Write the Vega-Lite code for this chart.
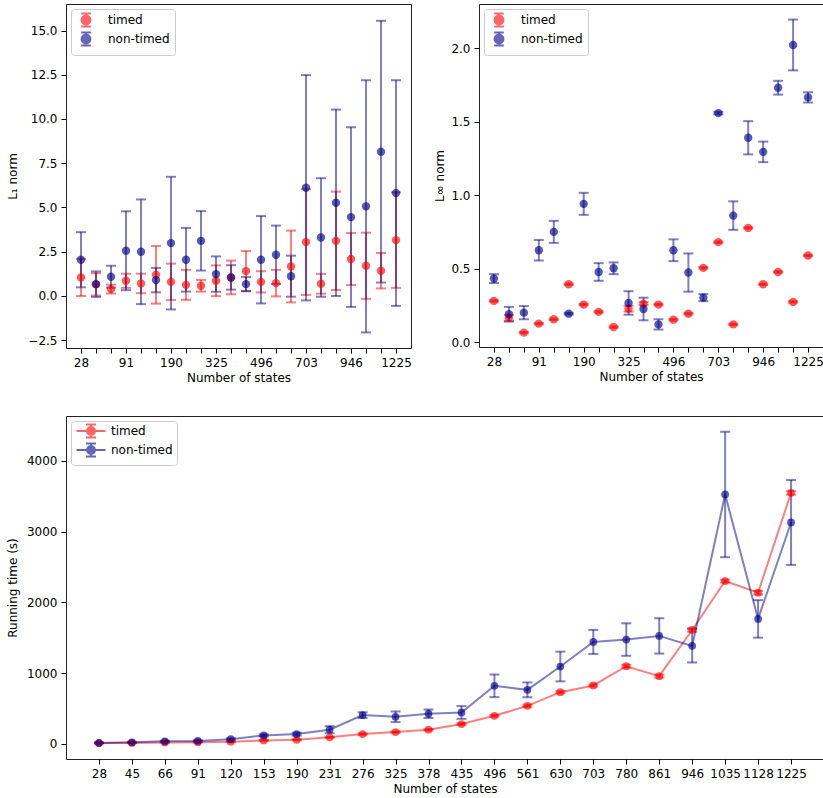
{
  "$schema": "https://vega.github.io/schema/vega-lite/v6.json",
  "padding": {"left": 5, "top": 3, "right": 0, "bottom": 2},
  "config": {
    "font": "DejaVu Sans",
    "view": {"stroke": "#222222", "strokeWidth": 1},
    "axis": {"grid": false, "domain": false, "tickColor": "black", "tickSize": 5, "labelColor": "black", "labelFontSize": 12, "titleFontSize": 12, "titleFontWeight": "normal", "titleColor": "black", "labelPadding": 4, "labelOverlap": false, "labelFlush": false, "labelBound": false}
  },
  "datasets": {
    "d": [
      {"states": 28, "method": "timed", "l1": 1.04, "l1_err": 1.05, "linf": 0.28, "linf_err": 0.005, "time": 10, "time_err": 5},
      {"states": 45, "method": "timed", "l1": 0.65, "l1_err": 0.63, "linf": 0.165, "linf_err": 0.02, "time": 12, "time_err": 5},
      {"states": 66, "method": "timed", "l1": 0.38, "l1_err": 0.25, "linf": 0.064, "linf_err": 0.005, "time": 18, "time_err": 5},
      {"states": 91, "method": "timed", "l1": 0.85, "l1_err": 0.40, "linf": 0.125, "linf_err": 0.005, "time": 22, "time_err": 5},
      {"states": 120, "method": "timed", "l1": 0.70, "l1_err": 0.55, "linf": 0.155, "linf_err": 0.005, "time": 28, "time_err": 6},
      {"states": 153, "method": "timed", "l1": 1.19, "l1_err": 1.63, "linf": 0.393, "linf_err": 0.005, "time": 47, "time_err": 6},
      {"states": 190, "method": "timed", "l1": 0.79, "l1_err": 1.03, "linf": 0.255, "linf_err": 0.005, "time": 56, "time_err": 6},
      {"states": 231, "method": "timed", "l1": 0.62, "l1_err": 0.85, "linf": 0.205, "linf_err": 0.005, "time": 90, "time_err": 8},
      {"states": 276, "method": "timed", "l1": 0.57, "l1_err": 0.33, "linf": 0.102, "linf_err": 0.005, "time": 136, "time_err": 10},
      {"states": 325, "method": "timed", "l1": 0.85, "l1_err": 0.87, "linf": 0.227, "linf_err": 0.02, "time": 165, "time_err": 10},
      {"states": 378, "method": "timed", "l1": 1.04, "l1_err": 0.95, "linf": 0.261, "linf_err": 0.01, "time": 198, "time_err": 10},
      {"states": 435, "method": "timed", "l1": 1.40, "l1_err": 1.13, "linf": 0.255, "linf_err": 0.005, "time": 278, "time_err": 12},
      {"states": 496, "method": "timed", "l1": 0.79, "l1_err": 0.60, "linf": 0.152, "linf_err": 0.005, "time": 395, "time_err": 12},
      {"states": 561, "method": "timed", "l1": 0.72, "l1_err": 0.75, "linf": 0.193, "linf_err": 0.005, "time": 536, "time_err": 15},
      {"states": 630, "method": "timed", "l1": 1.66, "l1_err": 2.03, "linf": 0.505, "linf_err": 0.005, "time": 729, "time_err": 15},
      {"states": 703, "method": "timed", "l1": 3.04, "l1_err": 2.99, "linf": 0.68, "linf_err": 0.005, "time": 824, "time_err": 15},
      {"states": 780, "method": "timed", "l1": 0.68, "l1_err": 0.56, "linf": 0.12, "linf_err": 0.005, "time": 1096, "time_err": 20},
      {"states": 861, "method": "timed", "l1": 3.11, "l1_err": 2.78, "linf": 0.777, "linf_err": 0.005, "time": 955, "time_err": 20},
      {"states": 946, "method": "timed", "l1": 2.08, "l1_err": 1.47, "linf": 0.393, "linf_err": 0.005, "time": 1609, "time_err": 25},
      {"states": 1035, "method": "timed", "l1": 1.70, "l1_err": 1.87, "linf": 0.477, "linf_err": 0.005, "time": 2301, "time_err": 20},
      {"states": 1128, "method": "timed", "l1": 1.42, "l1_err": 1.00, "linf": 0.273, "linf_err": 0.005, "time": 2136, "time_err": 25},
      {"states": 1225, "method": "timed", "l1": 3.15, "l1_err": 2.70, "linf": 0.589, "linf_err": 0.005, "time": 3548, "time_err": 25},
      {"states": 28, "method": "non-timed", "l1": 2.04, "l1_err": 1.56, "linf": 0.432, "linf_err": 0.03, "time": 12, "time_err": 8},
      {"states": 45, "method": "non-timed", "l1": 0.66, "l1_err": 0.72, "linf": 0.189, "linf_err": 0.05, "time": 20, "time_err": 8},
      {"states": 66, "method": "non-timed", "l1": 1.08, "l1_err": 0.62, "linf": 0.2, "linf_err": 0.045, "time": 35, "time_err": 8},
      {"states": 91, "method": "non-timed", "l1": 2.55, "l1_err": 2.23, "linf": 0.625, "linf_err": 0.07, "time": 40, "time_err": 10},
      {"states": 120, "method": "non-timed", "l1": 2.49, "l1_err": 2.96, "linf": 0.75, "linf_err": 0.075, "time": 65, "time_err": 12},
      {"states": 153, "method": "non-timed", "l1": 0.89, "l1_err": 0.69, "linf": 0.193, "linf_err": 0.006, "time": 118, "time_err": 15},
      {"states": 190, "method": "non-timed", "l1": 2.98, "l1_err": 3.75, "linf": 0.941, "linf_err": 0.075, "time": 136, "time_err": 20},
      {"states": 231, "method": "non-timed", "l1": 2.04, "l1_err": 1.80, "linf": 0.477, "linf_err": 0.06, "time": 198, "time_err": 50},
      {"states": 276, "method": "non-timed", "l1": 3.11, "l1_err": 1.68, "linf": 0.502, "linf_err": 0.04, "time": 405, "time_err": 40},
      {"states": 325, "method": "non-timed", "l1": 1.23, "l1_err": 1.00, "linf": 0.266, "linf_err": 0.08, "time": 381, "time_err": 75},
      {"states": 378, "method": "non-timed", "l1": 1.04, "l1_err": 0.69, "linf": 0.225, "linf_err": 0.077, "time": 424, "time_err": 60},
      {"states": 435, "method": "non-timed", "l1": 0.66, "l1_err": 0.40, "linf": 0.12, "linf_err": 0.035, "time": 442, "time_err": 90},
      {"states": 496, "method": "non-timed", "l1": 2.04, "l1_err": 2.47, "linf": 0.625, "linf_err": 0.074, "time": 819, "time_err": 160},
      {"states": 561, "method": "non-timed", "l1": 2.32, "l1_err": 1.65, "linf": 0.473, "linf_err": 0.13, "time": 762, "time_err": 105},
      {"states": 630, "method": "non-timed", "l1": 1.11, "l1_err": 1.16, "linf": 0.302, "linf_err": 0.024, "time": 1092, "time_err": 210},
      {"states": 703, "method": "non-timed", "l1": 6.11, "l1_err": 6.37, "linf": 1.559, "linf_err": 0.008, "time": 1440, "time_err": 170},
      {"states": 780, "method": "non-timed", "l1": 3.30, "l1_err": 3.35, "linf": 0.861, "linf_err": 0.097, "time": 1473, "time_err": 230},
      {"states": 861, "method": "non-timed", "l1": 5.26, "l1_err": 5.27, "linf": 1.391, "linf_err": 0.113, "time": 1525, "time_err": 250},
      {"states": 946, "method": "non-timed", "l1": 4.45, "l1_err": 5.08, "linf": 1.295, "linf_err": 0.07, "time": 1384, "time_err": 235},
      {"states": 1035, "method": "non-timed", "l1": 5.06, "l1_err": 7.13, "linf": 1.732, "linf_err": 0.047, "time": 3525, "time_err": 887},
      {"states": 1128, "method": "non-timed", "l1": 8.15, "l1_err": 7.40, "linf": 2.023, "linf_err": 0.173, "time": 1765, "time_err": 265},
      {"states": 1225, "method": "non-timed", "l1": 5.81, "l1_err": 6.38, "linf": 1.666, "linf_err": 0.035, "time": 3129, "time_err": 600}
    ]
  },
  "resolve": {"scale": {"color": "independent"}, "legend": {"color": "independent"}},
  "spacing": 31,
  "vconcat": [
    {
      "resolve": {"scale": {"color": "independent"}, "legend": {"color": "independent"}},
      "spacing": 21,
      "hconcat": [
        {
          "width": 345, "height": 344,
          "data": {"name": "d"},
          "layer": [
            {
              "mark": {"type": "errorbar", "ticks": {"size": 10}, "thickness": 2, "opacity": 0.5},
              "encoding": {
                "x": {"field": "states", "type": "ordinal", "scale": {"type": "point", "padding": 1.05}, "axis": {"title": "Number of states", "labelAngle": 0, "titlePadding": 4, "labelExpr": "indexof(['28','91','190','325','496','703','946','1225'], datum.label) >= 0 ? datum.label : ''"}},
                "y": {"field": "l1", "type": "quantitative", "scale": {"domain": [-2.95, 16.5], "nice": false, "zero": false}, "axis": {"title": "L₁ norm", "values": [-2.5, 0, 2.5, 5, 7.5, 10, 12.5, 15], "format": ".1f", "titlePadding": 8}},
                "yError": {"field": "l1_err"},
                "color": {"field": "method", "type": "nominal", "scale": {"domain": ["timed", "non-timed"], "range": ["red", "darkblue"]}, "legend": {"title": null, "orient": "top-left", "offset": 5, "symbolType": "M-1.2,-1.65H1.2M0,-1.65V1.65M-1.2,1.65H1.2M1.12,0A1.12,1.12 0 1,1 -1.12,0A1.12,1.12 0 1,1 1.12,0Z", "symbolSize": 64, "symbolOffset": 4, "symbolStrokeWidth": 2, "symbolOpacity": 0.6, "labelFontSize": 12, "labelOffset": 16, "padding": 5, "rowPadding": -3, "strokeColor": "#cccccc", "fillColor": "white", "cornerRadius": 3}}
              }
            },
            {
              "mark": {"type": "point", "filled": true, "size": 70, "opacity": 0.65},
              "encoding": {
                "x": {"field": "states", "type": "ordinal"},
                "y": {"field": "l1", "type": "quantitative"},
                "color": {"field": "method", "type": "nominal", "scale": {"domain": ["timed", "non-timed"], "range": ["red", "darkblue"]}, "legend": {"title": null, "orient": "top-left", "offset": 5, "symbolType": "M-1.2,-1.65H1.2M0,-1.65V1.65M-1.2,1.65H1.2M1.12,0A1.12,1.12 0 1,1 -1.12,0A1.12,1.12 0 1,1 1.12,0Z", "symbolSize": 64, "symbolOffset": 4, "symbolStrokeWidth": 2, "symbolOpacity": 0.6, "labelFontSize": 12, "labelOffset": 16, "padding": 5, "rowPadding": -3, "strokeColor": "#cccccc", "fillColor": "white", "cornerRadius": 3}}
              }
            }
          ]
        },
        {
          "width": 344, "height": 343,
          "data": {"name": "d"},
          "layer": [
            {
              "mark": {"type": "errorbar", "ticks": {"size": 10}, "thickness": 2, "opacity": 0.5},
              "encoding": {
                "x": {"field": "states", "type": "ordinal", "scale": {"type": "point", "padding": 1.05}, "axis": {"title": "Number of states", "labelAngle": 0, "titlePadding": 4, "labelExpr": "indexof(['28','91','190','325','496','703','946','1225'], datum.label) >= 0 ? datum.label : ''"}},
                "y": {"field": "linf", "type": "quantitative", "scale": {"domain": [-0.034, 2.302], "nice": false, "zero": false}, "axis": {"title": "L∞ norm", "values": [0, 0.5, 1, 1.5, 2], "format": ".1f", "titlePadding": 4}},
                "yError": {"field": "linf_err"},
                "color": {"field": "method", "type": "nominal", "scale": {"domain": ["timed", "non-timed"], "range": ["red", "darkblue"]}, "legend": {"title": null, "orient": "top-left", "offset": 5, "symbolType": "M-1.2,-1.65H1.2M0,-1.65V1.65M-1.2,1.65H1.2M1.12,0A1.12,1.12 0 1,1 -1.12,0A1.12,1.12 0 1,1 1.12,0Z", "symbolSize": 64, "symbolOffset": 4, "symbolStrokeWidth": 2, "symbolOpacity": 0.6, "labelFontSize": 12, "labelOffset": 16, "padding": 5, "rowPadding": -3, "strokeColor": "#cccccc", "fillColor": "white", "cornerRadius": 3}}
              }
            },
            {
              "mark": {"type": "point", "filled": true, "size": 70, "opacity": 0.65},
              "encoding": {
                "x": {"field": "states", "type": "ordinal"},
                "y": {"field": "linf", "type": "quantitative"},
                "color": {"field": "method", "type": "nominal", "scale": {"domain": ["timed", "non-timed"], "range": ["red", "darkblue"]}, "legend": {"title": null, "orient": "top-left", "offset": 5, "symbolType": "M-1.2,-1.65H1.2M0,-1.65V1.65M-1.2,1.65H1.2M1.12,0A1.12,1.12 0 1,1 -1.12,0A1.12,1.12 0 1,1 1.12,0Z", "symbolSize": 64, "symbolOffset": 4, "symbolStrokeWidth": 2, "symbolOpacity": 0.6, "labelFontSize": 12, "labelOffset": 16, "padding": 5, "rowPadding": -3, "strokeColor": "#cccccc", "fillColor": "white", "cornerRadius": 3}}
              }
            }
          ]
        }
      ]
    },
    {
      "width": 758, "height": 343,
      "data": {"name": "d"},
      "layer": [
        {
          "mark": {"type": "errorbar", "ticks": {"size": 10}, "thickness": 2, "opacity": 0.5},
          "encoding": {
            "x": {"field": "states", "type": "ordinal", "scale": {"type": "point", "padding": 1.05}, "axis": {"title": "Number of states", "labelAngle": 0, "titlePadding": 4}},
            "y": {"field": "time", "type": "quantitative", "scale": {"domain": [-216, 4635], "nice": false, "zero": false}, "axis": {"title": "Running time (s)", "values": [0, 1000, 2000, 3000, 4000], "format": "d", "titlePadding": 7}},
            "yError": {"field": "time_err"},
            "color": {"field": "method", "type": "nominal", "scale": {"domain": ["timed", "non-timed"], "range": ["red", "darkblue"]}, "legend": {"title": null, "orient": "top-left", "offset": 5, "symbolType": "M-2.9,0H2.9M0,-1.3V1.3M-1,-1.3H1M-1,1.3H1M0.8,0A0.8,0.8 0 1,1 -0.8,0A0.8,0.8 0 1,1 0.8,0Z", "symbolSize": 100, "symbolOffset": 10, "symbolStrokeWidth": 2, "symbolOpacity": 0.6, "labelFontSize": 12, "labelOffset": 14, "padding": 4, "rowPadding": -3, "strokeColor": "#cccccc", "fillColor": "white", "cornerRadius": 3}}
          }
        },
        {
          "mark": {"type": "line", "strokeWidth": 2, "opacity": 0.5},
          "encoding": {
            "x": {"field": "states", "type": "ordinal"},
            "y": {"field": "time", "type": "quantitative"},
            "color": {"field": "method", "type": "nominal", "scale": {"domain": ["timed", "non-timed"], "range": ["red", "darkblue"]}, "legend": {"title": null, "orient": "top-left", "offset": 5, "symbolType": "M-2.9,0H2.9M0,-1.3V1.3M-1,-1.3H1M-1,1.3H1M0.8,0A0.8,0.8 0 1,1 -0.8,0A0.8,0.8 0 1,1 0.8,0Z", "symbolSize": 100, "symbolOffset": 10, "symbolStrokeWidth": 2, "symbolOpacity": 0.6, "labelFontSize": 12, "labelOffset": 14, "padding": 4, "rowPadding": -3, "strokeColor": "#cccccc", "fillColor": "white", "cornerRadius": 3}}
          }
        },
        {
          "mark": {"type": "point", "filled": true, "size": 60, "opacity": 0.65},
          "encoding": {
            "x": {"field": "states", "type": "ordinal"},
            "y": {"field": "time", "type": "quantitative"},
            "color": {"field": "method", "type": "nominal", "scale": {"domain": ["timed", "non-timed"], "range": ["red", "darkblue"]}, "legend": {"title": null, "orient": "top-left", "offset": 5, "symbolType": "M-2.9,0H2.9M0,-1.3V1.3M-1,-1.3H1M-1,1.3H1M0.8,0A0.8,0.8 0 1,1 -0.8,0A0.8,0.8 0 1,1 0.8,0Z", "symbolSize": 100, "symbolOffset": 10, "symbolStrokeWidth": 2, "symbolOpacity": 0.6, "labelFontSize": 12, "labelOffset": 14, "padding": 4, "rowPadding": -3, "strokeColor": "#cccccc", "fillColor": "white", "cornerRadius": 3}}
          }
        }
      ]
    }
  ]
}
